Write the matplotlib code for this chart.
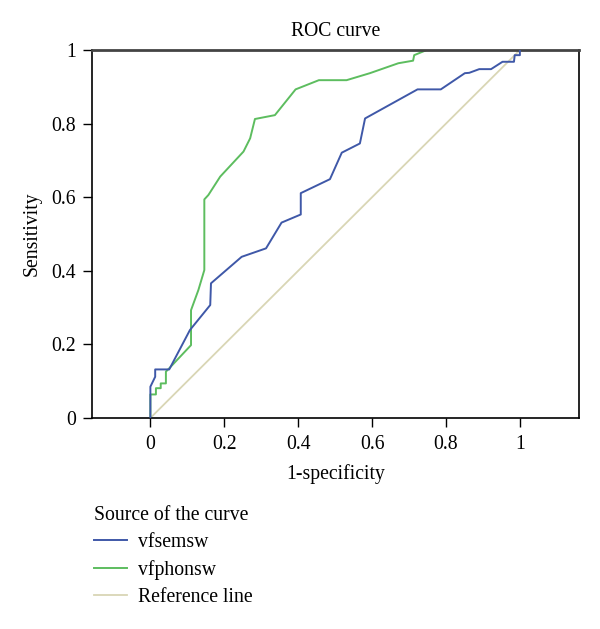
import matplotlib

matplotlib.use("Agg")
import matplotlib.pyplot as plt

# ROC curve data
vfsemsw_fpr = [0, 0, 0.013, 0.013, 0.051, 0.107, 0.162, 0.164, 0.247, 0.313, 0.355,
               0.407, 0.407, 0.486, 0.518, 0.567, 0.581, 0.723, 0.786, 0.851, 0.863,
               0.89, 0.922, 0.953, 0.984, 0.986, 1.0, 1.0]
vfsemsw_tpr = [0, 0.085, 0.112, 0.132, 0.132, 0.239, 0.307, 0.366, 0.438, 0.461, 0.531,
               0.553, 0.611, 0.649, 0.721, 0.746, 0.814, 0.893, 0.893, 0.937, 0.938,
               0.948, 0.948, 0.968, 0.968, 0.986, 0.986, 1.0]

vfphonsw_fpr = [0, 0, 0.015, 0.015, 0.028, 0.028, 0.042, 0.042, 0.051, 0.110, 0.110,
                0.130, 0.146, 0.146, 0.157, 0.189, 0.252, 0.270, 0.283, 0.337, 0.393,
                0.456, 0.531, 0.594, 0.671, 0.711, 0.714, 0.748, 1.0]
vfphonsw_tpr = [0, 0.064, 0.064, 0.081, 0.081, 0.094, 0.094, 0.126, 0.135, 0.198, 0.293,
                0.348, 0.402, 0.594, 0.606, 0.656, 0.724, 0.760, 0.8125, 0.823, 0.893,
                0.918, 0.918, 0.937, 0.964, 0.971, 0.986, 1.0, 1.0]

ref_x = [0, 1]
ref_y = [0, 1]

ticks = [0, 0.2, 0.4, 0.6, 0.8, 1]
tick_labels = ["0", "0.2", "0.4", "0.6", "0.8", "1"]

plt.rcParams["font.family"] = ["Liberation Serif", "DejaVu Serif"]
FS = 14.2

fig = plt.figure(figsize=(6.0, 6.29), dpi=100)
ax = fig.add_axes([92 / 600, 1 - 418 / 629, (579 - 92) / 600, (418 - 50) / 629])

ax.plot(ref_x, ref_y, color="#d9d6b5", lw=1.3, zorder=1, label="Reference line")
ax.plot(vfsemsw_fpr, vfsemsw_tpr, color="#3f58a8", lw=1.4, zorder=3, label="vfsemsw")
ax.plot(vfphonsw_fpr, vfphonsw_tpr, color="#5dbd5f", lw=1.4, zorder=2, label="vfphonsw")

ax.set_xlim(-0.158, 1.16)
ax.set_ylim(0, 1)
ax.set_xticks(ticks)
ax.set_xticklabels(tick_labels)
ax.set_yticks(ticks)
ax.set_yticklabels(tick_labels)
ax.tick_params(direction="out", length=6.5, width=1.0, labelsize=FS, color="black")
ax.tick_params(axis="x", pad=6)
ax.tick_params(axis="y", pad=5)
ax.tick_params(top=False, right=False)

for side in ["left", "right", "bottom"]:
    ax.spines[side].set_color("black")
    ax.spines[side].set_linewidth(1.2)
ax.spines["top"].set_color("#444444")
ax.spines["top"].set_linewidth(2.0)

ax.set_title("ROC curve", fontsize=FS, pad=10)
ax.set_xlabel("1-specificity", fontsize=FS, labelpad=7)
ax.set_ylabel("Sensitivity", fontsize=FS, labelpad=7)

# legend below the plot, order as in the reference
handles, labels = ax.get_legend_handles_labels()
order = [1, 2, 0]
leg = fig.legend([handles[i] for i in order], [labels[i] for i in order],
                 title="Source of the curve", loc="upper left",
                 bbox_to_anchor=(94 / 600, 1 - 506 / 629),
                 frameon=False, fontsize=FS, title_fontsize=FS,
                 handlelength=1.65, handletextpad=0.6, labelspacing=0.4,
                 borderpad=0, borderaxespad=0, alignment="left")

fig.savefig("out.png", dpi=100)
